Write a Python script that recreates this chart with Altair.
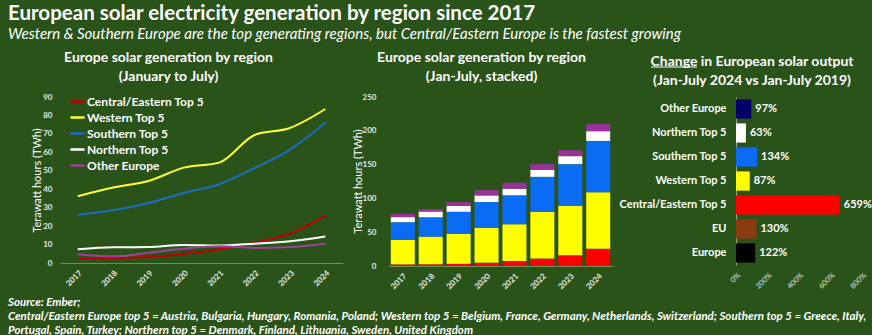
import altair as alt
import pandas as pd

# ---------------- data ----------------
years = ["2017", "2018", "2019", "2020", "2021", "2022", "2023", "2024"]
regions = ["Central/Eastern Top 5", "Western Top 5", "Southern Top 5",
           "Northern Top 5", "Other Europe"]
central = [2.4, 2.6, 3.2, 4.9, 7.5, 11.0, 16.0, 25.5]
western = [36.2, 40.9, 44.5, 51.7, 54.4, 69.4, 73.2, 83.5]
southern = [26.2, 28.6, 32.5, 38.0, 42.7, 51.5, 61.5, 76.0]
northern = [7.5, 8.5, 8.7, 9.8, 9.5, 10.5, 11.8, 14.4]
other = [4.7, 3.6, 5.5, 7.8, 9.1, 8.2, 8.7, 10.5]
series = [central, western, southern, northern, other]

line_colors = ["#C00000", "#FFFF33", "#1F6CC4", "#FFFFFF", "#A0409A"]
bar_colors = ["#FF0000", "#FFFF00", "#0A6CF5", "#FFFFFF", "#993399"]

change_labels = ["Other Europe", "Northern Top 5", "Southern Top 5", "Western Top 5",
                 "Central/Eastern Top 5", "EU", "Europe"]
change_values = [97, 63, 134, 87, 659, 130, 122]
change_colors = ["#000066", "#FFFFFF", "#0A6CF5", "#FFFF00", "#FF0000", "#8B3A12", "#000000"]

footer_lines = [
    "Source: Ember;",
    "Central/Eastern Europe top 5 = Austria, Bulgaria, Hungary, Romania, Poland; Western top 5 = Belgium, France, Germany, Netherlands, Switzerland; Southern top 5 = Greece, Italy,",
    "Portugal, Spain, Turkey; Northern top 5 = Denmark, Finland, Lithuania, Sweden, United Kingdom",
]

BG = "#2A531A"
FONT = "Lato"

rows = []
for i, (r, vals) in enumerate(zip(regions, series)):
    for y, v in zip(years, vals):
        rows.append({"year": y, "region": r, "value": v, "idx": i,
                     "barcolor": bar_colors[i]})
df = pd.DataFrame(rows)

df_change = pd.DataFrame({
    "label": change_labels,
    "value": change_values,
    "color": change_colors,
    "txt": [f"{v}%" for v in change_values],
})

panel_title = dict(fontSize=14, fontWeight="bold", color="white", font=FONT,
                   anchor="middle", lineHeight=19, offset=9)

xaxis_years = alt.Axis(title=None, labelAngle=-45, labelFontSize=8, labelFontWeight="bold",
                       labelColor="#E8E8E8", labelFont=FONT, ticks=False,
                       domainColor="#6E8F62", domainWidth=1.2, labelPadding=6)


def yaxis(vals, tx, ty, lpad):
    return alt.Axis(values=vals, title="Terawatt hours (TWh)",
                    titleColor="white", titleFontSize=11, titleFont=FONT,
                    titleFontWeight="normal", titleX=tx, titleY=ty, titleAngle=-90,
                    titleAlign="center", titleBaseline="middle",
                    labelFontSize=8, labelFontWeight="bold", labelColor="#E8E8E8",
                    labelFont=FONT, ticks=False, domain=False, grid=False,
                    labelPadding=lpad)


# ---------------- left: lines ----------------
left = alt.Chart(df).mark_line(strokeWidth=2, interpolate="monotone").encode(
    x=alt.X("year:O", axis=xaxis_years),
    y=alt.Y("value:Q", scale=alt.Scale(domain=[0, 90], nice=False),
            axis=yaxis(list(range(0, 91, 10)), -23, 83, 8)),
    color=alt.Color("region:N", scale=alt.Scale(domain=regions, range=line_colors),
                    legend=alt.Legend(orient="none", legendX=9, legendY=-4, title=None,
                                      symbolType="stroke", symbolStrokeWidth=2.5,
                                      symbolSize=200, labelColor="white", labelFontSize=12,
                                      labelFontWeight="bold", labelFont=FONT,
                                      rowPadding=1, labelOffset=1)),
    order=alt.Order("idx:Q"),
).properties(
    width=283, height=166,
    title=alt.TitleParams(["Europe solar generation by region", "(January to July)"],
                          dx=-33, **panel_title),
)

# ---------------- middle: stacked bars ----------------
middle = alt.Chart(df).mark_bar().encode(
    x=alt.X("year:O", scale=alt.Scale(paddingInner=0.14, paddingOuter=0.1),
            axis=xaxis_years),
    y=alt.Y("value:Q", stack="zero", scale=alt.Scale(domain=[0, 250], nice=False),
            axis=yaxis(list(range(0, 251, 50)), -30, 84, 12)),
    color=alt.Color("barcolor:N", scale=None),
    order=alt.Order("idx:Q", sort="ascending"),
).properties(
    width=225, height=169,
    title=alt.TitleParams(["Europe solar generation by region", "(Jan-July, stacked)"],
                          dx=-19, **panel_title),
)

# ---------------- spacer (carries the underline of "Change") ----------------
spacer = alt.Chart(pd.DataFrame({"a": [0]})).mark_rule(
    color="white", strokeWidth=1).encode(
    x=alt.value(-7), x2=alt.value(39), y=alt.value(-30)
).properties(width=33, height=166)

# ---------------- right: change bars ----------------
base = alt.Chart(df_change).encode(
    y=alt.Y("label:N", sort=change_labels,
            scale=alt.Scale(paddingInner=0.2, paddingOuter=0.1),
            axis=alt.Axis(title=None, labelFontSize=11, labelFontWeight="bold",
                          labelColor="white", labelFont=FONT, ticks=False,
                          domainColor="#9AAA90", domainWidth=1, labelPadding=10,
                          labelLimit=200)),
    x=alt.X("value:Q", scale=alt.Scale(domain=[0, 800], nice=False),
            axis=alt.Axis(values=[0, 200, 400, 600, 800], labelExpr="datum.value + '%'",
                          title=None, labelAngle=-45, labelFontSize=7.5,
                          labelColor="#E0E0E0", labelFont=FONT, ticks=False,
                          domain=False, grid=False, labelPadding=6,
                          labelOverlap=False, labelFlush=False)),
)
bars = base.mark_bar().encode(color=alt.Color("color:N", scale=None))
labels = base.mark_text(align="left", dx=4, fontSize=11, fontWeight="bold",
                        color="white", font=FONT).encode(text="txt:N")
right = alt.layer(bars, labels).properties(
    width=126, height=168,
    title=alt.TitleParams(["Change in European solar output",
                           "(Jan-July 2024 vs Jan-July 2019)"],
                          dx=-47, **panel_title),
)

hc = alt.hconcat(left, middle, spacer, right, spacing=45, bounds="flush").properties(
    title=alt.TitleParams(footer_lines, orient="bottom", anchor="start", frame="group",
                          fontSize=11.5, fontStyle="italic", fontWeight="bold",
                          color="white", font=FONT, lineHeight=14, offset=6, dx=-52)
)

chart = alt.vconcat(hc).properties(
    title=alt.TitleParams(
        "European solar electricity generation by region since 2017",
        subtitle="Western & Southern Europe are the top generating regions, but Central/Eastern Europe is the fastest growing",
        anchor="start", frame="group", fontSize=20.5, fontWeight="bold", color="white",
        font=FONT, subtitleFontSize=15, subtitleFontStyle="italic",
        subtitleColor="white", subtitleFont=FONT, subtitlePadding=3, offset=9, dx=-52),
    padding={"left": 8, "top": 3, "right": 0, "bottom": 0},
).configure(background=BG).configure_view(stroke=None)

chart.save("out.html", embed_options={"renderer": "svg", "actions": False})
